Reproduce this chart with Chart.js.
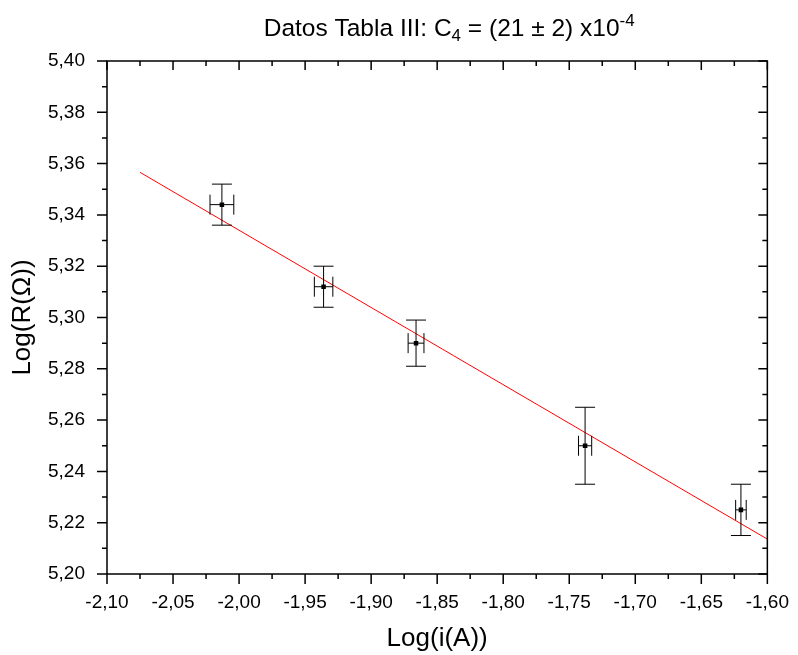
<!DOCTYPE html>
<html>
<head>
<meta charset="utf-8">
<script src="https://cdn.jsdelivr.net/npm/chart.js@4/dist/chart.umd.min.js"></script>
<style>
  html, body { margin: 0; padding: 0; background: #fff; }
</style>
</head>
<body>
<canvas id="grafico" width="798" height="655"></canvas>
<script>
// datos
const logI = [-2.013, -1.936, -1.866, -1.738, -1.620];
const logR = [5.344, 5.312, 5.290, 5.250, 5.225];
const errLogI = [0.009, 0.007, 0.006, 0.005, 0.004];
const errLogR = [0.008, 0.008, 0.009, 0.015, 0.010];

// recta de ajuste
const fitX = [-2.075, -1.60];
const fitY = [5.3566, 5.2136];

const xTicks = [-2.10, -2.05, -2.00, -1.95, -1.90, -1.85, -1.80, -1.75, -1.70, -1.65, -1.60];
const yTicks = [5.20, 5.22, 5.24, 5.26, 5.28, 5.30, 5.32, 5.34, 5.36, 5.38, 5.40];

const fuente = 'Liberation Sans, Arial, sans-serif';

function coma(v) {
    return v.toFixed(2).replace('.', ',');
}

// marco, ticks mayores y menores, titulo
const marco = {
    id: 'marco',
    afterDraw(chart) {
        const ctx = chart.ctx;
        const a = chart.chartArea;
        const x = chart.scales.x, y = chart.scales.y;
        ctx.save();
        ctx.strokeStyle = '#000';
        ctx.lineWidth = 1.5;
        ctx.strokeRect(a.left, a.top, a.right - a.left, a.bottom - a.top);

        ctx.beginPath();
        for (let i = 0; i < xTicks.length; i++) {
            let px = x.getPixelForValue(xTicks[i]);
            ctx.moveTo(px, a.bottom); ctx.lineTo(px, a.bottom + 10);
            ctx.moveTo(px, a.top); ctx.lineTo(px, a.top + 9);
            if (i < xTicks.length - 1) {
                let m = x.getPixelForValue((xTicks[i] + xTicks[i + 1]) / 2);
                ctx.moveTo(m, a.bottom); ctx.lineTo(m, a.bottom + 5);
                ctx.moveTo(m, a.top); ctx.lineTo(m, a.top + 5);
            }
        }
        for (let i = 0; i < yTicks.length; i++) {
            let py = y.getPixelForValue(yTicks[i]);
            ctx.moveTo(a.left, py); ctx.lineTo(a.left - 10, py);
            ctx.moveTo(a.right, py); ctx.lineTo(a.right - 9, py);
            if (i < yTicks.length - 1) {
                let m = y.getPixelForValue((yTicks[i] + yTicks[i + 1]) / 2);
                ctx.moveTo(a.left, m); ctx.lineTo(a.left - 5, m);
                ctx.moveTo(a.right, m); ctx.lineTo(a.right - 5, m);
            }
        }
        ctx.stroke();

        // titulo con subindice y superindice
        const partes = [
            ['Datos Tabla III: C', 24.5, 0],
            ['4', 17, 5],
            [' = (21 \u00b1 2) x10', 24.5, 0],
            ['-4', 17, -10]
        ];
        let total = 0;
        partes.forEach(p => { ctx.font = p[1] + 'px ' + fuente; total += ctx.measureText(p[0]).width; });
        let cx = (a.left + a.right) / 2 + 12 - total / 2;
        ctx.fillStyle = '#000';
        ctx.textBaseline = 'alphabetic';
        partes.forEach(p => {
            ctx.font = p[1] + 'px ' + fuente;
            ctx.fillText(p[0], cx, 36 + p[2]);
            cx += ctx.measureText(p[0]).width;
        });
        ctx.restore();
    },
    afterDatasetsDraw(chart) {
        // barras de error
        const ctx = chart.ctx;
        const x = chart.scales.x, y = chart.scales.y;
        ctx.save();
        ctx.strokeStyle = '#000';
        ctx.lineWidth = 1;
        ctx.beginPath();
        for (let i = 0; i < logI.length; i++) {
            let px = x.getPixelForValue(logI[i]);
            let py = y.getPixelForValue(logR[i]);
            let y1 = y.getPixelForValue(logR[i] + errLogR[i]);
            let y2 = y.getPixelForValue(logR[i] - errLogR[i]);
            let x1 = x.getPixelForValue(logI[i] - errLogI[i]);
            let x2 = x.getPixelForValue(logI[i] + errLogI[i]);
            ctx.moveTo(px, y1); ctx.lineTo(px, y2);
            ctx.moveTo(px - 10, y1); ctx.lineTo(px + 10, y1);
            ctx.moveTo(px - 10, y2); ctx.lineTo(px + 10, y2);
            ctx.moveTo(x1, py); ctx.lineTo(x2, py);
            ctx.moveTo(x1, py - 10); ctx.lineTo(x1, py + 10);
            ctx.moveTo(x2, py - 10); ctx.lineTo(x2, py + 10);
        }
        ctx.stroke();
        ctx.restore();
    }
};

const ctx = document.getElementById('grafico').getContext('2d');
const grafico = new Chart(ctx, {
    type: 'scatter',
    data: {
        datasets: [{
            label: 'Ajuste',
            type: 'line',
            data: fitX.map((v, i) => ({x: v, y: fitY[i]})),
            borderColor: '#ff0000',
            borderWidth: 1,
            pointRadius: 0,
            fill: false
        }, {
            label: 'Datos',
            data: logI.map((v, i) => ({x: v, y: logR[i]})),
            pointStyle: 'rect',
            pointRadius: 3.2,
            backgroundColor: '#000',
            borderColor: '#000',
            borderWidth: 0
        }]
    },
    options: {
        responsive: false,
        animation: false,
        layout: { padding: { top: 61, right: 26, left: 0, bottom: 0 } },
        plugins: {
            legend: { display: false },
            tooltip: { enabled: false },
            title: { display: false }
        },
        scales: {
            x: {
                type: 'linear',
                min: -2.10,
                max: -1.60,
                afterBuildTicks: s => { s.ticks = xTicks.map(v => ({value: v})); },
                afterFit: s => { s.height = 81; },
                grid: { display: false },
                border: { display: false },
                ticks: { padding: 9, color: '#000', font: { size: 19, family: fuente }, callback: v => coma(v) },
                title: { display: true, text: 'Log(i(A))', color: '#000', font: { size: 26, family: fuente }, padding: { top: 0, bottom: 1 } }
            },
            y: {
                type: 'linear',
                min: 5.20,
                max: 5.40,
                afterBuildTicks: s => { s.ticks = yTicks.map(v => ({value: v})); },
                afterFit: s => { s.width = 107; },
                grid: { display: false },
                border: { display: false },
                ticks: { padding: 14, color: '#000', font: { size: 19, family: fuente }, callback: v => coma(v) },
                title: { display: true, text: 'Log(R(\u03a9))', color: '#000', font: { size: 26, family: fuente }, padding: { top: 7, bottom: 0 } }
            }
        }
    },
    plugins: [marco]
});
</script>
</body>
</html>
